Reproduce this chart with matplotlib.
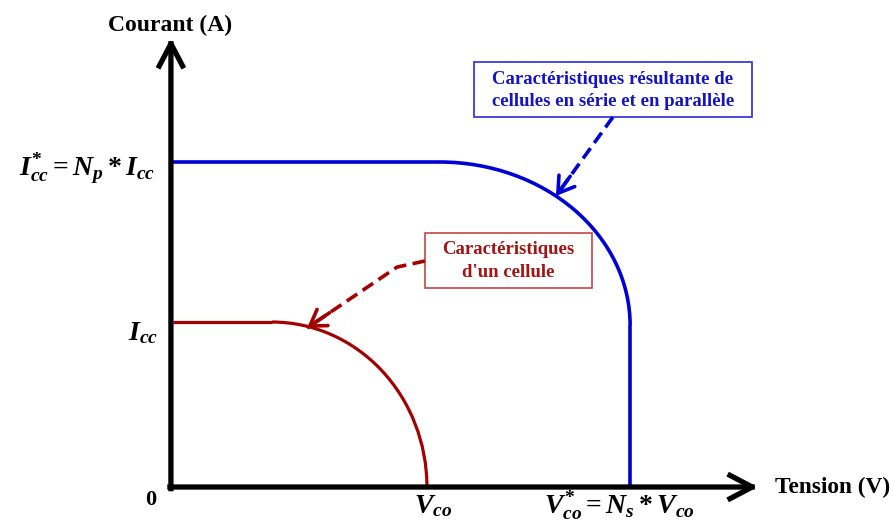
import matplotlib.pyplot as plt
from matplotlib.patches import Arc, Rectangle

# Schematic values (one cell: Icc = 1, Vco = 1)
v_co = 1.0
i_cc = 1.0
n_s = 1.8
n_p = 1.97
cell_knee_v = 0.39      # end of the flat part, single cell
array_knee_v = 1.05     # end of the flat part, series/parallel array
array_knee_i = 0.98     # start of the vertical part, series/parallel array

# annotation arrows (start, bend, tip)
blue_arrow_v = [1.732, 1.508]
blue_arrow_i = [2.242, 1.764]
red_arrow_v = [0.992, 0.882, 0.528]
red_arrow_i = [1.370, 1.333, 0.964]

axis_v_end = 2.303
axis_i_end = 2.721

blue = '#0000d6'
red = '#a30000'

plt.rcParams['font.family'] = 'Liberation Serif'
plt.rcParams['font.weight'] = 'bold'
plt.rcParams['mathtext.fontset'] = 'custom'
plt.rcParams['mathtext.rm'] = 'Liberation Serif:bold'
plt.rcParams['mathtext.it'] = 'Liberation Serif:italic:bold'
plt.rcParams['mathtext.bf'] = 'Liberation Serif:bold'

fig = plt.figure(figsize=(8.93, 5.21), dpi=100)
ax = fig.add_axes([0, 0, 1, 1])
ax.set_xlim(-0.681, 2.835)
ax.set_ylim(-0.206, 2.952)
ax.axis('off')

# Single cell curve
ax.plot([0, cell_knee_v], [i_cc, i_cc], color=red, lw=2.3, solid_capstyle='butt')
ax.add_patch(Arc((cell_knee_v, 0), 2 * (v_co - cell_knee_v), 2 * i_cc,
                 theta1=0, theta2=90, color=red, lw=2.3))

# Series / parallel curve
ax.plot([0, array_knee_v], [n_p * i_cc, n_p * i_cc], color=blue, lw=2.6, solid_capstyle='butt')
ax.add_patch(Arc((array_knee_v, array_knee_i), 2 * (n_s * v_co - array_knee_v),
                 2 * (n_p * i_cc - array_knee_i), theta1=0, theta2=90, color=blue, lw=2.6))
ax.plot([n_s * v_co, n_s * v_co], [0, array_knee_i], color=blue, lw=2.6, solid_capstyle='butt')

# Axes with arrows
axis_style = dict(arrowstyle='->,head_length=0.8,head_width=0.42', lw=3.8, color='black',
                  mutation_scale=20, shrinkA=0, shrinkB=0, capstyle='projecting')
ax.annotate('', xy=(axis_v_end, 0), xytext=(-0.012, 0), arrowprops=axis_style)
ax.annotate('', xy=(-0.008, axis_i_end), xytext=(-0.008, -0.01), arrowprops=axis_style)

# Dashed annotation arrows
def dashed_arrow(vs, cs, color):
    ax.plot(vs, cs, color=color, lw=2.6, ls=(0, (3.5, 1.8)), dash_capstyle='butt')
    back = (vs[-1] + 0.25 * (vs[-2] - vs[-1]), cs[-1] + 0.25 * (cs[-2] - cs[-1]))
    ax.annotate('', xy=(vs[-1], cs[-1]), xytext=back,
                arrowprops=dict(arrowstyle='->,head_length=0.55,head_width=0.35', lw=2.6,
                                color=color, mutation_scale=20, shrinkA=0, shrinkB=0))

dashed_arrow(blue_arrow_v, blue_arrow_i, blue)
dashed_arrow(red_arrow_v, red_arrow_i, red)

# Annotation boxes
ax.add_patch(Rectangle((1.185, 2.242), 1.095, 0.334, fill=False, ec='#2a2ad8', lw=1.2))
ax.text(1.732, 2.405, 'Caractéristiques résultante de\ncellules en série et en parallèle',
        ha='center', va='center', fontsize=13.5, color='#1414c4', linespacing=1.4)
ax.add_patch(Rectangle((0.992, 1.206), 0.658, 0.333, fill=False, ec='#c04848', lw=1.2))
ax.text(1.321, 1.37, "Caractéristiques\nd'un cellule",
        ha='center', va='center', fontsize=13.5, color='#a01414', linespacing=1.4)

# Axis titles and key values
ax.text(-0.012, 2.80, 'Courant (A)', ha='center', va='center', fontsize=17)
ax.text(2.37, 0, 'Tension (V)', ha='left', va='center', fontsize=16.8)
ax.text(-0.087, -0.079, '0', ha='center', va='center', fontsize=16)
ax.text(-0.071, n_p * i_cc - 0.04, r'$I_{cc}^{*} = N_p * I_{cc}$', ha='right', va='center', fontsize=20)
ax.text(-0.059, i_cc - 0.07, r'$I_{cc}$', ha='right', va='center', fontsize=20)
ax.text(v_co + 0.024, -0.115, r'$V_{co}$', ha='center', va='center', fontsize=20)
ax.text(n_s * v_co - 0.044, -0.115, r'$V_{co}^{*} = N_s * V_{co}$', ha='center', va='center', fontsize=20)

plt.savefig('out.png', dpi=100)
